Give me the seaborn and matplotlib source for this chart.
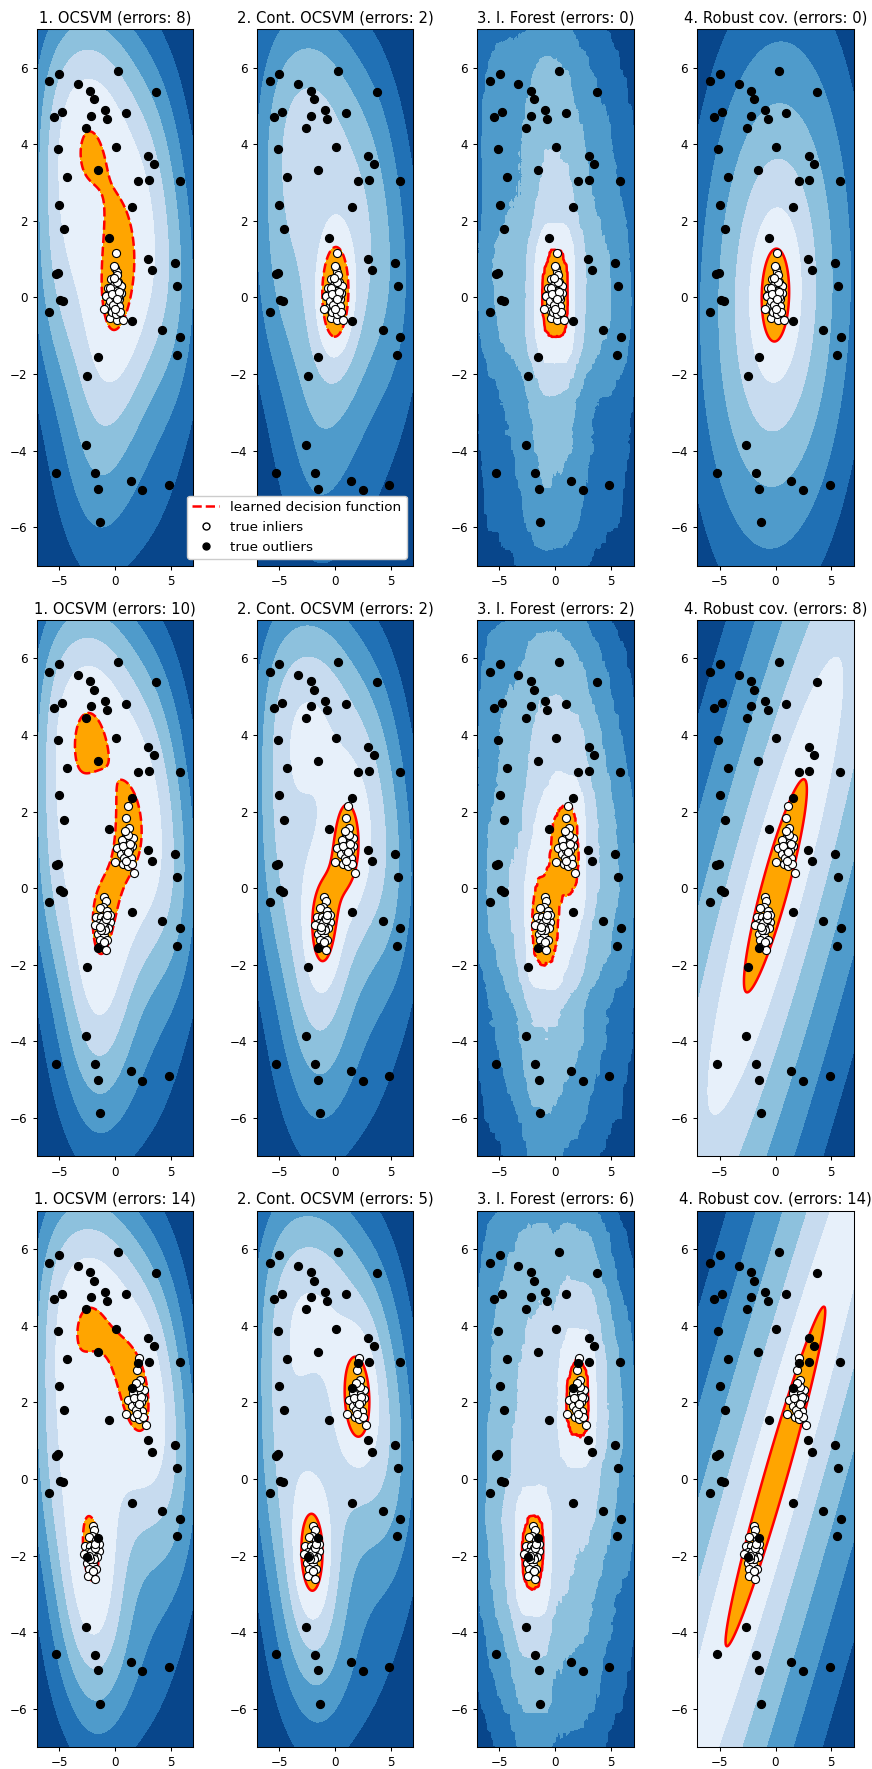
import numpy as np
import matplotlib
matplotlib.use("Agg")
import matplotlib.pyplot as plt
import seaborn as sns
from matplotlib.lines import Line2D

# ---------------- data ----------------
outlier_x = [-5.87, -4.98, -3.31, 0.30, -2.20, -1.88, 3.72, -5.48, -4.77, -2.17,
             -0.92, -0.71, 0.98, -2.59, -5.12, 0.06, 2.98, 3.46, -4.29, -1.55,
             2.06, 3.01, 5.81, -4.98, 1.55, -4.56, -0.54, 2.92, 3.31, 5.36,
             -5.30, -5.09, 5.60, -4.89, -4.62, -5.87, 1.55, 4.26, 5.84, 5.54,
             -1.52, -2.47, -2.62, -5.27, -1.79, -1.49, 1.40, 2.47, 4.85, -1.34]
outlier_y = [5.64, 5.84, 5.56, 5.91, 5.40, 5.17, 5.37, 4.70, 4.83, 4.75,
             4.89, 4.65, 4.82, 4.43, 3.87, 3.92, 3.69, 3.48, 3.14, 3.32,
             3.03, 3.06, 3.04, 2.42, 2.36, 1.79, 1.54, 1.01, 0.71, 0.89,
             0.61, 0.64, 0.29, -0.06, -0.09, -0.37, -0.62, -0.85, -1.04, -1.50,
             -1.55, -2.05, -3.86, -4.58, -4.59, -5.00, -4.78, -5.02, -4.90, -5.87]

# lower inlier cluster (centred on -separation), offsets
cluster_a_dx = [0.04, 0.16, -0.05, -0.35, 0.31, -0.65, -0.20, 0.13, 0.55, -0.44,
                0.13, -0.20, 0.40, -0.50, 0.01, -0.35, 0.31, -0.05, -0.41, 0.19,
                -0.80, 0.55, 0.00, 0.10, -0.10, 0.20, -0.25, 0.05, -0.30, 0.25]
cluster_a_dy = [0.76, 0.66, 0.51, 0.48, 0.40, 0.26, 0.26, 0.19, 0.12, 0.08,
                0.05, -0.06, -0.04, -0.20, -0.25, -0.34, -0.36, -0.48, -0.53, -0.60,
                0.03, 0.31, 0.00, -0.10, 0.10, 0.20, -0.10, -0.40, 0.00, 0.30]
# upper inlier cluster (centred on +separation), offsets
cluster_b_dx = [0.14, -0.04, 0.23, -0.01, -0.19, 0.44, 0.59, -0.55, 0.20, -0.10,
                -0.79, -0.43, 0.05, 0.40, -0.97, -0.25, 0.14, 0.50, 0.74, 0.56,
                -0.40, 0.00, 0.10, -0.15, 0.30, -0.30, 0.20, 0.00, 0.35, -0.10, 0.15]
cluster_b_dy = [1.15, 0.83, 0.58, 0.41, 0.29, 0.29, 0.31, 0.08, 0.18, -0.01,
                0.05, -0.10, -0.18, -0.22, -0.31, -0.38, -0.43, -0.38, -0.60, 0.11,
                0.25, 0.00, 0.10, -0.20, 0.00, 0.10, 0.40, -0.30, 0.15, 0.50, -0.05]

separations = [0, 1, 2]
inliers_per_cluster = 75
method_names = ["1. OCSVM", "2. Cont. OCSVM", "3. I. Forest", "4. Robust cov."]
errors = [[8, 2, 0, 0],
          [10, 2, 2, 8],
          [14, 5, 6, 14]]
boundary_styles = [["dashed", "dashed", "solid", "solid"],
                   ["dashed", "solid", "dashed", "solid"],
                   ["dashed", "solid", "solid", "solid"]]
legend_labels = ["learned decision function", "true inliers", "true outliers"]
outliers_fraction = 0.25

# ---------------- helpers ----------------
def sqd(A, B):
    return ((A[:, None, :] - B[None, :, :]) ** 2).sum(-1)


def wquantile(scores, w, q):
    order = np.argsort(scores)
    s = scores[order]
    cum = np.cumsum(w[order])
    t = q * (cum[-1] - 1)

    def at(i):
        k = np.searchsorted(cum, i, side="right")
        return s[min(k, len(s) - 1)]
    f = t - np.floor(t)
    return at(np.floor(t)) * (1 - f) + at(np.floor(t) + 1) * f


def ocsvm_alpha(P, w, gamma, nu, iters=1500):
    K = np.exp(-gamma * sqd(P, P))
    C = w / (nu * w.sum())
    a = w / w.sum()
    L = np.linalg.eigvalsh(K)[-1]
    y = a.copy()
    t = 1.0
    for _ in range(iters):
        v = y - (K @ y) / L
        lo, hi = v.min() - C.max() - 1.0, v.max()
        for _ in range(40):
            mid = 0.5 * (lo + hi)
            if np.clip(v - mid, 0, C).sum() > 1:
                lo = mid
            else:
                hi = mid
        an = np.clip(v - 0.5 * (lo + hi), 0, C)
        tn = 0.5 * (1 + np.sqrt(1 + 4 * t * t))
        y = an + (t - 1) / tn * (an - a)
        a, t = an, tn
    return a


def isolation_field(P, w, qx, qy):
    """Axis-aligned box mass at several scales (isolation-depth proxy)."""
    coarse = [6.0, 4.6, 3.5, 2.7, 2.0, 1.5, 1.1]
    fine = [0.35, 0.55, 0.8]
    def ax_(s):
        return (np.abs(P[:, 0][:, None] - qx[None, :]) < s) * w[:, None]
    def by_(s):
        return (np.abs(P[:, 1][:, None] - qy[None, :]) < s).astype(float)
    Ac = [ax_(s) for s in coarse]
    Bc = [by_(s) for s in coarse]
    total = 0.0
    n = 0
    for A in Ac:
        for B in Bc:
            total = total + np.log1p(B.T @ A)
            n += 1
    depth = total / n
    near = 0.0
    for s in fine:
        cnt = by_(s).T @ ax_(s)
        near = near + np.log1p(np.maximum(cnt - 4.0, 0.0))
    near = near / len(fine)
    stripx = np.mean([np.log1p(A.sum(0)) for A in Ac[2:]], axis=0)
    stripy = np.mean([np.log1p((B * w[:, None]).sum(0)) for B in Bc[2:]], axis=0)
    return depth + 0.28 * near + 0.33 * stripx[None, :] + 0.2 * stripy[:, None]


# ---------------- figure ----------------
W_PX, H_PX = 872, 1769
fig = plt.figure(figsize=(W_PX / 100, H_PX / 100), dpi=100)
plt.rcParams["font.family"] = ["DejaVu Sans"]

gx = np.linspace(-7, 7, 200)
XX, YY = np.meshgrid(gx, gx)
G = np.c_[XX.ravel(), YY.ravel()]
fx = np.linspace(-7, 7, 320)
FX, FY = np.meshgrid(fx, fx)

out = np.c_[outlier_x, outlier_y]
ca = np.c_[cluster_a_dx, cluster_a_dy]
cb = np.c_[cluster_b_dx, cluster_b_dy]

axes_grid = []
for r, sep in enumerate(separations):
    inl = np.r_[ca - sep, cb + sep]
    P = np.r_[inl, out]
    w = np.r_[np.full(len(ca), inliers_per_cluster / len(ca)),
              np.full(len(cb), inliers_per_cluster / len(cb)),
              np.ones(len(out))]

    fields = []
    # 1. OCSVM
    gam = 0.1
    a = ocsvm_alpha(P, w, gam, 0.95 * outliers_fraction + 0.05)
    Zg = (np.exp(-gam * sqd(G, P)) @ a).reshape(XX.shape)
    sc = np.exp(-gam * sqd(P, P)) @ a
    fields.append((XX, YY, Zg, wquantile(sc, w, outliers_fraction)))

    # 2. Cont. OCSVM
    zmin, zmax = Zg.min(), Zg.max()
    win = w[:len(inl)]
    kde_g = (np.exp(-0.5 * sqd(G, inl)) @ win).reshape(XX.shape) / inliers_per_cluster
    kde_s = (np.exp(-0.5 * sqd(P, inl)) @ win) / inliers_per_cluster
    Z2 = (Zg - zmin) / (zmax - zmin) + 0.3 * kde_g
    s2 = (sc - zmin) / (zmax - zmin) + 0.3 * kde_s
    fields.append((XX, YY, Z2, wquantile(s2, w, outliers_fraction)))

    # 3. I. Forest (axis-aligned isolation proxy)
    Z3 = isolation_field(P, w, fx, fx)
    s3 = np.diag(isolation_field(P, w, P[:, 0], P[:, 1]))
    fields.append((FX, FY, Z3, wquantile(s3, w, outliers_fraction)))

    # 4. Robust covariance
    wi = w[:len(inl)]
    mu = (inl * wi[:, None]).sum(0) / wi.sum()
    D = inl - mu
    cov = (D * wi[:, None]).T @ D / wi.sum()
    icov = np.linalg.inv(cov)
    Dg = G - mu
    Z4 = -(np.einsum("ij,jk,ik->i", Dg, icov, Dg) ** 0.33).reshape(XX.shape)
    Dp = P - mu
    s4 = -(np.einsum("ij,jk,ik->i", Dp, icov, Dp) ** 0.33)
    fields.append((XX, YY, Z4, wquantile(s4, w, outliers_fraction)))

    row_axes = []
    for c in range(4):
        left = (36.7 + 220.2 * c) / W_PX
        top = 29.3 + 590.7 * r
        ax = fig.add_axes([left, 1 - (top + 536.4) / H_PX, 156.4 / W_PX, 536.4 / H_PX])
        Xg, Yg, Z, thr = fields[c]
        ax.contourf(Xg, Yg, Z, levels=np.linspace(Z.min(), thr, 7), cmap="Blues_r")
        ax.contour(Xg, Yg, Z, levels=[thr], colors="red", linewidths=1.8,
                   linestyles=boundary_styles[r][c])
        ax.contourf(Xg, Yg, Z, levels=[thr, Z.max()], colors="orange")
        sns.scatterplot(x=inl[:, 0], y=inl[:, 1], ax=ax, color="white", edgecolor="black",
                        s=34, linewidth=0.8, legend=False, zorder=3)
        sns.scatterplot(x=out[:, 0], y=out[:, 1], ax=ax, color="black", edgecolor="black",
                        s=34, linewidth=0.8, legend=False, zorder=3)
        ax.set_xlim(-7, 7)
        ax.set_ylim(-7, 7)
        ax.set_xlabel("")
        ax.set_ylabel("")
        ax.set_xticks([-5, 0, 5])
        ax.set_yticks([-6, -4, -2, 0, 2, 4, 6])
        ax.tick_params(labelsize=8.6, length=3.1, width=0.75)
        for sp in ax.spines.values():
            sp.set_linewidth(0.75)
        ax.set_title("%s (errors: %d)" % (method_names[c], errors[r][c]),
                     fontsize=10.6, pad=5.0)
        row_axes.append(ax)
    axes_grid.append(row_axes)

handles = [Line2D([0], [0], color="red", ls="--", lw=1.8),
           Line2D([0], [0], marker="o", ls="", mfc="white", mec="black", ms=5),
           Line2D([0], [0], marker="o", ls="", mfc="black", mec="black", ms=5)]
leg = axes_grid[0][1].legend(handles, legend_labels, loc="lower right", fontsize=9.7,
                             framealpha=1.0)
leg.set_zorder(10)

fig.savefig("out.png", dpi=100)
